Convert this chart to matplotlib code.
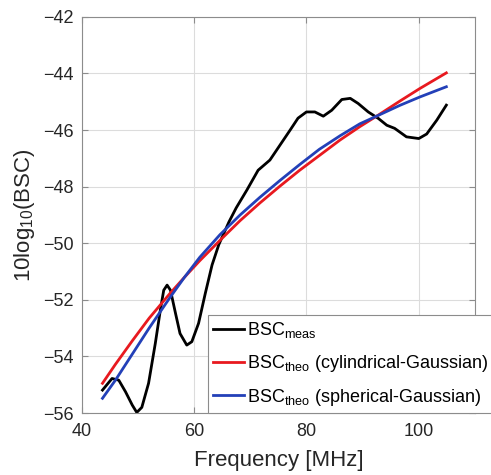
import matplotlib
matplotlib.use("Agg")
import matplotlib.pyplot as plt

plt.rcParams['font.family'] = ['Liberation Sans', 'DejaVu Sans']
plt.rcParams['mathtext.fontset'] = 'custom'
plt.rcParams['mathtext.rm'] = 'Liberation Sans'
plt.rcParams['mathtext.it'] = 'Liberation Sans'

# measured BSC
meas_f = [43.7, 45.4, 46.6, 47.8, 49.0, 49.8, 50.7, 51.9, 53.1, 54.0, 54.6, 55.2, 55.8, 56.7, 57.5,
          58.7, 59.6, 60.8, 62.0, 63.2, 64.4, 66.2, 67.5, 69.4, 71.4, 73.5, 75.3, 77.1, 78.5,
          80.0, 81.5, 83.0, 84.5, 86.3, 87.8, 89.2, 91.0, 92.8, 94.3, 95.7, 97.8, 100.0, 101.4,
          103.2, 104.9]
meas_v = [-55.19, -54.78, -54.84, -55.25, -55.72, -55.98, -55.8, -54.95, -53.54, -52.36, -51.66, -51.48,
          -51.66, -52.48, -53.19, -53.6, -53.48, -52.83, -51.77, -50.77, -50.05, -49.25, -48.75, -48.12,
          -47.42, -47.06, -46.53, -46.0, -45.58, -45.36, -45.36, -45.51, -45.3, -44.92, -44.88,
          -45.06, -45.36, -45.59, -45.83, -45.94, -46.24, -46.3, -46.14, -45.65, -45.12]

# theoretical fits
theo_f = [43.7, 46.0, 49.0, 52.0, 55.6, 58.3, 61.0, 64.6, 68.2, 71.7, 75.3, 78.8, 82.3, 86.0,
          89.5, 92.8, 96.6, 100.2, 104.9]
cyl_v = [-54.95, -54.28, -53.45, -52.65, -51.8, -51.2, -50.62, -49.9, -49.2, -48.58, -47.98,
         -47.42, -46.9, -46.35, -45.88, -45.47, -44.98, -44.53, -43.98]
sph_v = [-55.48, -54.84, -53.92, -53.0, -51.95, -51.2, -50.5, -49.7, -49.0, -48.38, -47.78,
         -47.22, -46.68, -46.2, -45.78, -45.48, -45.13, -44.83, -44.47]

fig = plt.figure(figsize=(4.91, 4.75), dpi=100)
ax = fig.add_axes([0.1664, 0.1305, 0.801, 0.834])

ax.plot(meas_f, meas_v, color='black', lw=2.0, label=r'BSC$_{\rm meas}$')
ax.plot(theo_f, cyl_v, color='#e8191f', lw=2.0, label=r'BSC$_{\rm theo}$ (cylindrical-Gaussian)')
ax.plot(theo_f, sph_v, color='#2340b8', lw=2.0, label=r'BSC$_{\rm theo}$ (spherical-Gaussian)')

ax.set_xlim(40, 110)
ax.set_ylim(-56, -42)
ax.set_xticks([40, 60, 80, 100])
ax.set_yticks([-56, -54, -52, -50, -48, -46, -44, -42])
ax.grid(True, color='#dcdcdc', lw=0.8)
ax.set_axisbelow(True)
for s in ax.spines.values():
    s.set_color('#8c8c8c')
    s.set_linewidth(0.8)
ax.tick_params(direction='in', top=True, right=True, length=4, color='#8c8c8c',
               labelsize=13, labelcolor='#262626', pad=6)
ax.tick_params(axis='x', pad=7.5)
ax.set_xlabel('Frequency [MHz]', fontsize=16, color='#262626', labelpad=7)
ax.set_ylabel(r'10log$_{10}$(BSC)', fontsize=16, color='#262626', labelpad=4)

leg = ax.legend(loc='lower left', bbox_to_anchor=(208/491, 62/475), bbox_transform=fig.transFigure,
                fontsize=13, handlelength=1.7, handletextpad=0.15, borderaxespad=0,
                labelspacing=0.7, fancybox=False, framealpha=1, edgecolor='#8c8c8c',
                borderpad=0.3)
leg.get_frame().set_linewidth(0.8)
leg.set_clip_on(False)

fig.savefig('out.png', dpi=100)
